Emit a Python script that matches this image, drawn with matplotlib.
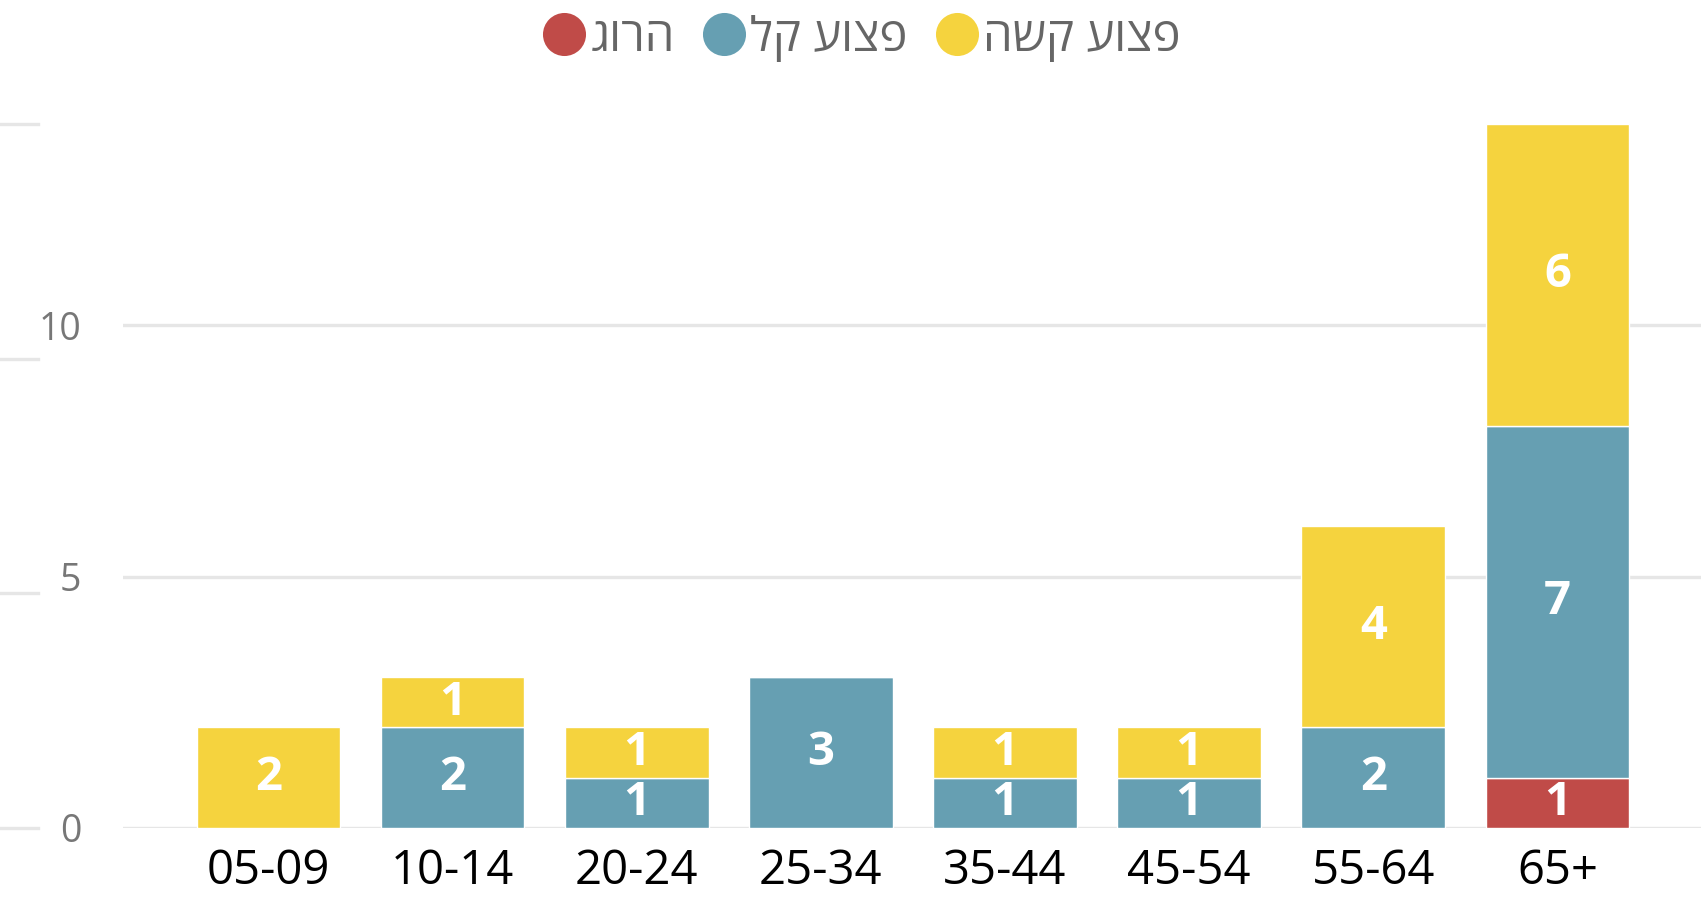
import numpy as np
import matplotlib
matplotlib.use("Agg")
import matplotlib.pyplot as plt
import matplotlib.transforms as mtransforms
from matplotlib.lines import Line2D

plt.rcParams['font.family'] = ['Open Sans', 'Liberation Sans', 'DejaVu Sans']

ages = ["05-09", "10-14", "20-24", "25-34", "35-44", "45-54", "55-64", "65+"]
killed = [0, 0, 0, 0, 0, 0, 0, 1]
light = [0, 2, 1, 3, 1, 1, 2, 7]
severe = [2, 1, 1, 0, 1, 1, 4, 6]
series_names = ["הרוג", "פצוע קל", "פצוע קשה"]
colors = ["#C04B48", "#669FB2", "#F5D33E"]


def rtl(s):
    # matplotlib has no bidi support, reverse for visual order
    return s[::-1]


fig = plt.figure(figsize=(17.01, 8.99), dpi=100)
ax = fig.add_axes([123 / 1701, 71 / 899, 1578 / 1701, 704 / 899])

x = np.arange(len(ages))
bottom = np.zeros(len(ages))
for vals, name, col in zip([killed, light, severe], series_names, colors):
    vals = np.array(vals)
    bars = ax.bar(x, vals, 0.78, bottom=bottom, color=col, edgecolor="white",
                  linewidth=1.0, label=rtl(name), zorder=3)
    ax.bar_label(bars, labels=[str(v) if v > 0 else "" for v in vals], label_type="center",
                 color="white", fontsize=34, fontweight="bold", zorder=4)
    bottom += vals

ax.set_xlim(-0.79, 7.78)
ax.set_ylim(0, 14)
ax.set_yticks([0, 5, 10])
ax.set_xticks(x)
ax.set_xticklabels(ages, fontsize=34, color="black")
ax.tick_params(axis="x", length=0, pad=14)
ax.tick_params(axis="y", length=0, pad=30, labelsize=27, labelcolor="#777777")
ax.grid(axis="y", color="#E6E6E6", linewidth=2.4, zorder=0)
for s in ax.spines.values():
    s.set_visible(False)

# secondary short grid marks at the far left
tr = mtransforms.blended_transform_factory(fig.transFigure, ax.transData)
for yv in np.linspace(0, 14, 4):
    ax.plot([0, 38 / 1701], [yv, yv], transform=tr, color="#E6E6E6", lw=2.4, clip_on=False)

handles = [Line2D([], [], marker="o", ls="", ms=31, color=c, markeredgewidth=0) for c in colors]
fig.legend(handles, [rtl(n) for n in series_names], loc="center", bbox_to_anchor=(862 / 1701, 1 - 38 / 899),
           ncol=3, frameon=False, fontsize=34, labelcolor="#666666", handletextpad=0.1,
           columnspacing=0.6, handlelength=0.9)

fig.savefig("out.png", dpi=100)
